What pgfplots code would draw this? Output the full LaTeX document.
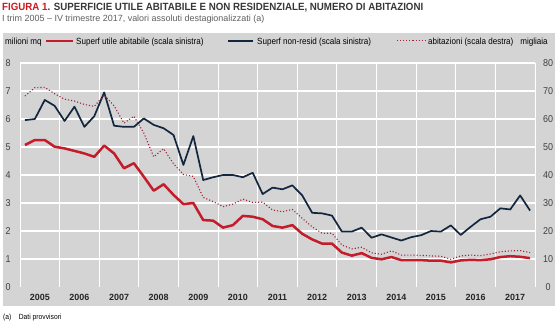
\documentclass[border=0pt]{standalone}
\usepackage{pgfplots}
\pgfplotsset{compat=1.18}
\usepackage{fontspec}
\setmainfont{Liberation Sans}
\newfontfamily\narrow{Liberation Sans}[FakeStretch=0.9]
\newfontfamily\titlefont{Liberation Sans}[FakeStretch=0.93]
\definecolor{panel}{RGB}{212,212,212}
\definecolor{istred}{RGB}{196,28,42}
\definecolor{navy}{RGB}{18,38,62}
\definecolor{dotred}{RGB}{160,35,55}
\definecolor{titlered}{RGB}{205,25,30}
\definecolor{titlegray}{RGB}{55,55,55}
\definecolor{subgray}{RGB}{95,95,95}

\pgfplotstableread{
i red navy
0 5.07 5.96
1 5.25 6.00
2 5.25 6.68
3 5.01 6.47
4 4.95 5.93
5 4.86 6.44
6 4.77 5.72
7 4.65 6.10
8 5.05 6.95
9 4.77 5.76
10 4.24 5.72
11 4.42 5.72
12 3.94 6.02
13 3.44 5.79
14 3.67 5.67
15 3.29 5.43
16 2.96 4.36
17 3.00 5.39
18 2.39 3.82
19 2.37 3.92
20 2.12 4.00
21 2.21 4.00
22 2.54 3.92
23 2.51 4.08
24 2.42 3.32
25 2.18 3.55
26 2.12 3.49
27 2.21 3.63
28 1.90 3.27
29 1.70 2.65
30 1.55 2.63
31 1.55 2.55
32 1.23 1.98
33 1.12 1.98
34 1.21 2.12
35 1.04 1.76
36 0.99 1.88
37 1.07 1.77
38 0.96 1.66
39 0.96 1.78
40 0.96 1.85
41 0.94 2.00
42 0.94 1.98
43 0.88 2.20
44 0.95 1.86
45 0.97 2.15
46 0.96 2.42
47 0.99 2.51
48 1.07 2.81
49 1.10 2.77
50 1.08 3.27
51 1.03 2.73
}\leftdata

\pgfplotstableread{
i abit
0 68.2
1 71.2
2 71.3
3 69.0
4 67.1
5 66.4
6 65.2
7 64.5
8 68.6
9 64.7
10 58.5
11 61.0
12 55.0
13 46.5
14 49.4
15 44.0
16 40.2
17 39.5
18 32.0
19 30.5
20 28.7
21 29.6
22 31.4
23 30.2
24 30.3
25 27.5
26 26.9
27 27.7
28 24.5
29 21.5
30 19.2
31 19.2
32 15.0
33 13.6
34 14.2
35 12.2
36 11.7
37 12.9
38 11.4
39 11.4
40 11.3
41 11.1
42 11.0
43 9.9
44 11.1
45 11.4
46 11.2
47 11.8
48 12.6
49 12.9
50 13.0
51 12.3
}\rightdata

\begin{document}
\begin{tikzpicture}[x=1bp,y=1bp]
\path[use as bounding box] (0,0) rectangle (559,322);
\fill[white] (0,0) rectangle (559,322);
\fill[panel] (3,16) rectangle (555,289);
% title and subtitle
\node[anchor=base west, inner sep=0] at (2,312) {\titlefont\fontsize{10.5}{12}\selectfont\bfseries\color{titlered}FIGURA 1\color{titlegray}. SUPERFICIE UTILE ABITABILE E NON RESIDENZIALE, NUMERO DI ABITAZIONI};
\node[anchor=base west, inner sep=0] at (2,301) {\fontsize{9}{10}\selectfont\color{subgray}I trim 2005 -- IV trimestre 2017, valori assoluti destagionalizzati (a)};
% legend
\node[anchor=base west, inner sep=0] at (5,278) {\narrow\fontsize{9}{10}\selectfont milioni mq};
\draw[istred, line width=2.4bp] (46,281.3) -- (73,281.3);
\node[anchor=base west, inner sep=0] at (76,278) {\narrow\fontsize{9}{10}\selectfont Superf utile abitabile (scala sinistra)};
\draw[navy, line width=1.7bp] (228,281.3) -- (253,281.3);
\node[anchor=base west, inner sep=0] at (257,278) {\narrow\fontsize{9}{10}\selectfont Superf non-resid (scala sinistra)};
\draw[dotred, dotted, line width=1.1bp] (397,281.3) -- (425,281.3);
\node[anchor=base west, inner sep=0] at (428,278) {\narrow\fontsize{9}{10}\selectfont abitazioni (scala destra)};
\node[anchor=base, inner sep=0] at (534,278) {\narrow\fontsize{9}{10}\selectfont migliaia};
% footnote
\node[anchor=base west, inner sep=0] at (3,3) {\narrow\fontsize{7.5}{8}\selectfont (a)\quad Dati provvisori};

\begin{axis}[
  at={(20bp,35bp)}, anchor=south west, scale only axis,
  width=515bp, height=224bp,
  xmin=-0.5, xmax=51.5, ymin=0, ymax=8,
  axis line style={draw=none},
  major tick length=0pt, minor tick length=0pt,
  xtick={1.5,5.5,9.5,13.5,17.5,21.5,25.5,29.5,33.5,37.5,41.5,45.5,49.5},
  xticklabels={2005,2006,2007,2008,2009,2010,2011,2012,2013,2014,2015,2016,2017},
  minor xtick={-0.5,3.5,7.5,11.5,15.5,19.5,23.5,27.5,31.5,35.5,39.5,43.5,47.5,51.5},
  xminorgrids, minor grid style={white, line width=0.9bp},
  ytick={1,2,3,4,5,6,7,8}, ymajorgrids, major grid style={white, line width=1.3bp},
  extra y ticks={0}, extra y tick style={grid=none},
  xticklabel style={font=\fontsize{9}{9}\selectfont\bfseries, anchor=center, yshift=-10bp, text=black!85},
  yticklabel style={font=\narrow\fontsize{10}{10}\selectfont, anchor=center, xshift=-12bp, text=black!75},
  /pgf/number format/assume math mode=true,
]
\addplot[istred, line width=2.5bp, line join=round] table[x=i, y=red] {\leftdata};
\addplot[navy, line width=1.7bp, line join=round] table[x=i, y=navy] {\leftdata};
\end{axis}

\begin{axis}[
  at={(20bp,35bp)}, anchor=south west, scale only axis,
  width=515bp, height=224bp,
  xmin=-0.5, xmax=51.5, ymin=0, ymax=80,
  axis line style={draw=none},
  hide x axis, axis y line*=right,
  major tick length=0pt,
  ytick={0,10,20,30,40,50,60,70,80},
  yticklabel style={font=\narrow\fontsize{10}{10}\selectfont, anchor=center, xshift=13bp, text=black!75},
  /pgf/number format/assume math mode=true,
]
\addplot[dotred, dotted, line width=1.1bp] table[x=i, y=abit] {\rightdata};
\end{axis}
\end{tikzpicture}
\end{document}
